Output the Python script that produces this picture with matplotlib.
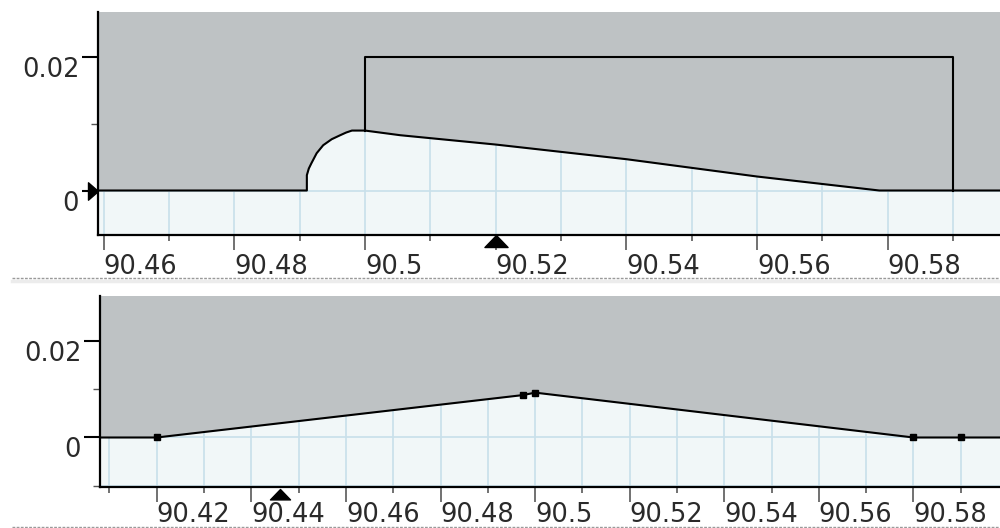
import matplotlib
matplotlib.use('Agg')
import matplotlib.pyplot as plt
import matplotlib.transforms as mtransforms
from matplotlib.path import Path
from matplotlib.lines import Line2D

# ---------------- data ----------------
# upper panel: surface profile (flat, rounded rise, sloped descent)
top_profile_x = [90.455, 90.4911, 90.4911, 90.4914, 90.4918, 90.4926, 90.4936,
                 90.4949, 90.4962, 90.4971, 90.4980, 90.5000, 90.5054, 90.5200,
                 90.5400, 90.5600, 90.5787, 90.6000]
top_profile_y = [0.0, 0.0, 0.0023, 0.0033, 0.0041, 0.0056, 0.0068,
                 0.0077, 0.0083, 0.0087, 0.0090, 0.0090, 0.0083, 0.0069,
                 0.0047, 0.0021, 0.0, 0.0]
# upper panel: rectangular outline
top_rect_x = [90.50, 90.50, 90.59, 90.59]
top_rect_y = [0.0090, 0.02, 0.02, 0.0]

# lower panel: triangular profile with vertices
bot_profile_x = [90.40, 90.42, 90.4975, 90.50, 90.58, 90.59, 90.60]
bot_profile_y = [0.0, 0.0, 0.0088, 0.0093, 0.0, 0.0, 0.0]
bot_points_x = [90.42, 90.4975, 90.50, 90.58, 90.59]
bot_points_y = [0.0, 0.0088, 0.0093, 0.0, 0.0]

# position indicators
top_cursor_x = 90.52
top_cursor_y = 0.0
bot_cursor_x = 90.4461

# ticks
top_xmajor = [90.46, 90.48, 90.50, 90.52, 90.54, 90.56, 90.58]
top_xlabels = ['90.46', '90.48', '90.5', '90.52', '90.54', '90.56', '90.58']
top_xminor = [90.47, 90.49, 90.51, 90.53, 90.55, 90.57, 90.59]
bot_xmajor = [90.42, 90.44, 90.46, 90.48, 90.50, 90.52, 90.54, 90.56, 90.58]
bot_xlabels = ['90.42', '90.44', '90.46', '90.48', '90.5', '90.52', '90.54',
               '90.56', '90.58']
bot_xminor = [90.41, 90.43, 90.45, 90.47, 90.49, 90.51, 90.53, 90.55, 90.57, 90.59]
ymajor = [0.0, 0.02]
ylabels = ['0', '0.02']
top_yminor = [0.01]
bot_yminor = [-0.01, 0.01]

# ---------------- style ----------------
GRAY = '#bec2c4'
LIGHT = '#f1f7f8'
GRID = '#c8e0ea'
TXT = '#2a2a2a'
FS = 18.5

plt.rcParams['font.family'] = ['DejaVu Sans']

W, H = 1000, 528
fig = plt.figure(figsize=(W / 100, H / 100), dpi=100)
fig.patch.set_facecolor('white')

ax1 = fig.add_axes([98 / W, 1 - 235 / H, (W - 98) / W, (235 - 12) / H])
ax2 = fig.add_axes([100 / W, 1 - 486.7 / H, (W - 100) / W, (486.7 - 296) / H])

ax1.set_xlim(90.45914, 90.59717)
ax1.set_ylim(-0.00668, 0.0268)
ax2.set_xlim(90.4080, 90.5983)
ax2.set_ylim(-0.0102, 0.02933)


def style_axes(ax, xmajor, xlabels, xminor, yminor, xpad):
    ax.set_facecolor(LIGHT)
    for s in ('top', 'right'):
        ax.spines[s].set_visible(False)
    for s in ('left', 'bottom'):
        ax.spines[s].set_linewidth(1.6)
        ax.spines[s].set_color('black')
    ax.set_xticks(xmajor, labels=xlabels, ha='left')
    ax.set_xticks(xminor, minor=True)
    ax.set_yticks(ymajor, labels=ylabels, va='top')
    ax.set_yticks(yminor, minor=True)
    ax.tick_params(axis='x', which='major', length=10.5, width=1.3,
                   color='#666666', labelsize=FS, labelcolor=TXT, pad=xpad)
    ax.tick_params(axis='x', which='minor', length=4.5, width=1.3,
                   color='#666666')
    ax.tick_params(axis='y', which='major', length=11.5, width=1.5,
                   color='black', labelsize=FS, labelcolor=TXT, pad=2)
    ax.tick_params(axis='y', which='minor', length=5, width=1.0,
                   color='#555555')
    ax.set_axisbelow(True)
    ax.grid(True, which='both', color=GRID, lw=1.2)


style_axes(ax1, top_xmajor, top_xlabels, top_xminor, top_yminor, 3.5)
style_axes(ax2, bot_xmajor, bot_xlabels, bot_xminor, bot_yminor, 0.3)

# upper panel drawing
ax1.fill_between(top_profile_x, top_profile_y, 0.05, color=GRAY, lw=0, zorder=1)
ax1.plot(top_profile_x, top_profile_y, color='black', lw=1.5, zorder=2)
ax1.plot(top_rect_x, top_rect_y, color='black', lw=1.5, zorder=2)

# lower panel drawing
ax2.fill_between(bot_profile_x, bot_profile_y, 0.05, color=GRAY, lw=0, zorder=1)
ax2.plot(bot_profile_x, bot_profile_y, color='black', lw=1.5, zorder=2)
ax2.plot(bot_points_x, bot_points_y, ls='none', marker='s', ms=4,
         color='black', zorder=3)

# indicator triangles
up_tri = Path([(0, 0), (1, -1.04), (-1, -1.04), (0, 0)],
              [Path.MOVETO, Path.LINETO, Path.LINETO, Path.CLOSEPOLY])
right_tri = Path([(0, 0), (-1, 0.87), (-1, -0.87), (0, 0)],
                 [Path.MOVETO, Path.LINETO, Path.LINETO, Path.CLOSEPOLY])

t1 = mtransforms.blended_transform_factory(ax1.transData, ax1.transAxes)
ax1.plot([top_cursor_x], [0], marker=up_tri, ms=17.3, color='black',
         transform=t1, clip_on=False, zorder=5)
t1y = mtransforms.blended_transform_factory(ax1.transAxes, ax1.transData)
ax1.plot([0], [top_cursor_y], marker=right_tri, ms=14.4, color='black',
         transform=t1y, clip_on=False, zorder=5)
t2 = mtransforms.blended_transform_factory(ax2.transData, ax2.transAxes)
ax2.plot([bot_cursor_x], [-0.01], marker=up_tri, ms=15, color='black',
         transform=t2, clip_on=False, zorder=5)

# dotted panel separators
for yy in (278, 526.7):
    fig.add_artist(Line2D([12 / W, 1], [1 - (yy + 2.5) / H] * 2,
                          transform=fig.transFigure, color='#ececec', lw=2.5))
    fig.add_artist(Line2D([12 / W, 1], [1 - yy / H] * 2,
                          transform=fig.transFigure, color='#9a9a9a', lw=1,
                          dashes=(2, 1)))

fig.savefig('out.png', dpi=100)
